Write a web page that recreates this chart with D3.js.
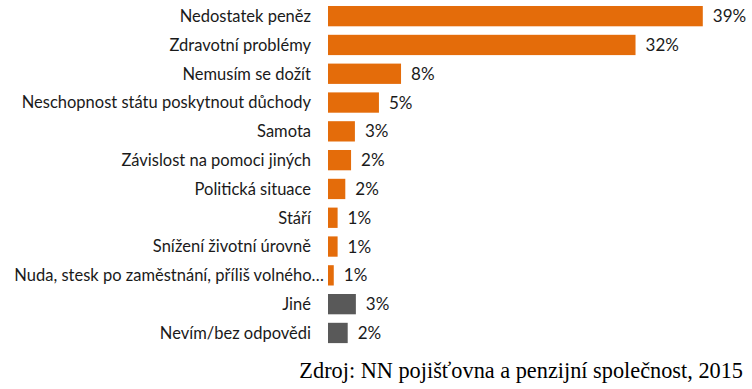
<!DOCTYPE html>
<html>
<head>
<meta charset="utf-8">
<script src="https://cdn.jsdelivr.net/npm/d3@7/dist/d3.min.js"></script>
<style>
html,body{margin:0;padding:0;background:#fff;}
svg{display:block;}
</style>
</head>
<body>
<svg id="chart" width="752" height="389"></svg>
<script>
const categories = [
  "Nedostatek peněz",
  "Zdravotní problémy",
  "Nemusím se dožít",
  "Neschopnost státu poskytnout důchody",
  "Samota",
  "Závislost na pomoci jiných",
  "Politická situace",
  "Stáří",
  "Snížení životní úrovně",
  "Nuda, stesk po zaměstnání, příliš volného…",
  "Jiné",
  "Nevím/bez odpovědi"
];
const values = [39, 32, 7.6, 5.3, 2.8, 2.4, 1.8, 1.0, 1.0, 0.6, 2.9, 2.05];
const valueLabels = ["39%","32%","8%","5%","3%","2%","2%","1%","1%","1%","3%","2%"];
const groups = ["a","a","a","a","a","a","a","a","a","a","b","b"];
const sourceText = "Zdroj: NN pojišťovna a penzijní společnost, 2015";

const svg = d3.select("#chart");
const x = d3.scaleLinear().domain([0, 40]).range([328, 712.4]);
const y = d3.scaleBand().domain(categories).range([-2.5, 351.6]).paddingInner(0.295).paddingOuter(0.295);
const color = d3.scaleOrdinal().domain(["a","b"]).range(["#E46C0A","#595959"]);

const data = categories.map((c,i)=>({c, v:values[i], l:valueLabels[i], g:groups[i]}));

svg.selectAll("rect.bar").data(data).join("rect")
  .attr("class","bar")
  .attr("x", x(0))
  .attr("y", d=>y(d.c))
  .attr("width", d=>x(d.v)-x(0))
  .attr("height", y.bandwidth())
  .attr("fill", d=>color(d.g));

const labelFont = "Lato, 'Open Sans', sans-serif";
svg.selectAll("text.cat").data(data).join("text")
  .attr("class","cat")
  .attr("x", d=> d.c.endsWith("…") ? x(0)-4 : x(0)-17)
  .attr("y", d=>y(d.c)+y.bandwidth()/2)
  .attr("dy","0.36em")
  .attr("text-anchor","end")
  .attr("font-family", labelFont)
  .attr("font-size", 16.5)
  .attr("fill","#1a1a1a")
  .text(d=>d.c);

svg.selectAll("text.val").data(data).join("text")
  .attr("class","val")
  .attr("x", d=>x(d.v)+10)
  .attr("y", d=>y(d.c)+y.bandwidth()/2)
  .attr("dy","0.36em")
  .attr("font-family", labelFont)
  .attr("font-size", 17)
  .attr("fill","#1a1a1a")
  .text(d=>d.l);

svg.append("text")
  .attr("x", 743)
  .attr("y", 378)
  .attr("text-anchor","end")
  .attr("font-family","'Liberation Serif', 'Times New Roman', serif")
  .attr("font-size", 22.3)
  .attr("fill","#000")
  .text(sourceText);
</script>
</body>
</html>
